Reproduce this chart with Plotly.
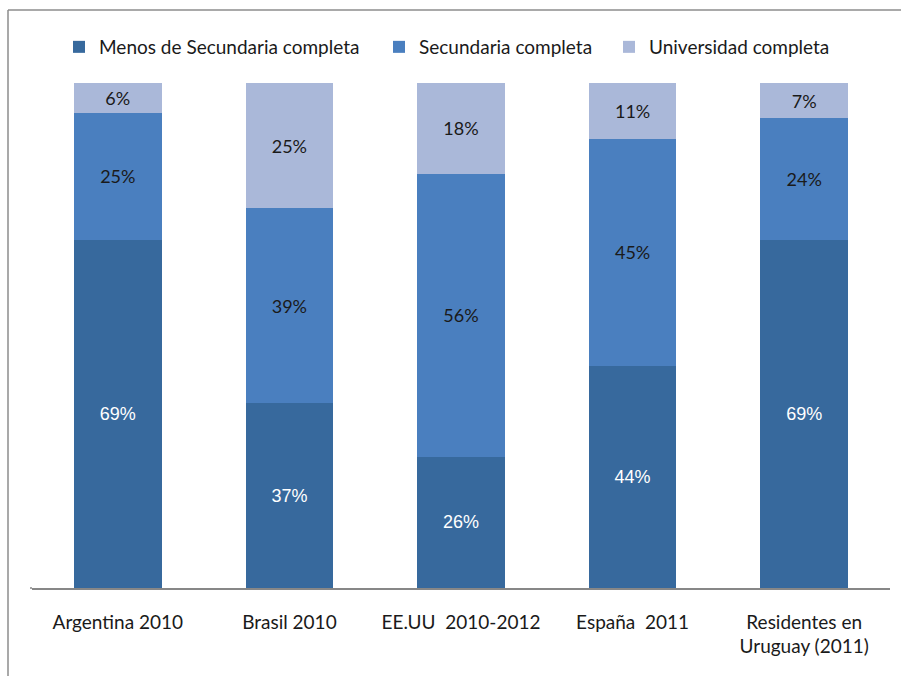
import plotly.graph_objects as go

# Education level distribution by origin (100% stacked)
categories = ["Argentina 2010", "Brasil 2010", "EE.UU  2010-2012", "España  2011",
              "Residentes en<br>Uruguay (2011)"]
menos_secundaria = [69, 37, 26, 44, 69]
secundaria = [25, 39, 56, 45, 24]
universidad = [6, 25, 18, 11, 7]

series_names = ["Menos de Secundaria completa", "Secundaria completa", "Universidad completa"]
colors = ["#37699d", "#4a7fbf", "#aab8d9"]

W, H = 901, 676
ML, MR, MT, MB = 32, 11, 83, 88
PW, PH = W - ML - MR, H - MT - MB

fig = go.Figure()
series = [menos_secundaria, secundaria, universidad]
legend_ids = ["legend", "legend2", "legend3"]
for i, (name, vals) in enumerate(zip(series_names, series)):
    dark = i == 0
    fig.add_trace(go.Bar(
        x=categories, y=vals, name=name,
        marker=dict(color=colors[i], line=dict(width=0)),
        width=0.51,
        text=[f"{v}%" for v in vals],
        textposition="inside", insidetextanchor="middle",
        constraintext="none",
        textangle=0,
        textfont=dict(family="Liberation Sans" if dark else "Lato",
                      size=18,
                      color="#ffffff" if dark else "#1a1a1a"),
        legend=legend_ids[i],
        hoverinfo="skip",
    ))

# legend item left edges in pixels
legend_px = [59, 379, 609]
legend_common = dict(orientation="h", yanchor="middle", xanchor="left",
                     font=dict(family="Lato", size=19, color="#1a1a1a"),
                     bgcolor="rgba(0,0,0,0)", borderwidth=0, itemwidth=30)
legend_y = 1 + (MT - 47) / PH
layout_legends = {}
for lid, px in zip(legend_ids, legend_px):
    layout_legends[lid] = dict(legend_common, x=(px - ML) / PW, y=legend_y)

fig.update_layout(
    width=W, height=H,
    margin=dict(l=ML, r=MR, t=MT, b=MB),
    barmode="stack", barnorm="percent",
    paper_bgcolor="white", plot_bgcolor="white",
    showlegend=True,
    uniformtext=dict(mode=False),
    xaxis=dict(showgrid=False, showline=True, linecolor="#878787", linewidth=1.5,
               ticks="", ticklabelstandoff=16,
               tickfont=dict(family="Lato", size=19, color="#1a1a1a"),
               fixedrange=True),
    yaxis=dict(range=[0, 100], visible=False, fixedrange=True),
    **layout_legends,
)

# chart frame: top and left border lines, axis line extends to the left
top_y = 1 + (MT - 10) / PH
left_x = (8 - ML) / PW
fig.add_shape(type="line", xref="paper", yref="paper", x0=left_x, x1=1 + MR / PW,
              y0=top_y, y1=top_y, line=dict(color="#8c8c8c", width=1.5))
fig.add_shape(type="line", xref="paper", yref="paper", x0=left_x, x1=left_x,
              y0=top_y, y1=-MB / PH, line=dict(color="#8c8c8c", width=1.5))
fig.add_shape(type="line", xref="paper", yref="paper", x0=(30 - ML) / PW, x1=0,
              y0=0, y1=0, line=dict(color="#878787", width=1.5))

fig.write_html("out.html")
